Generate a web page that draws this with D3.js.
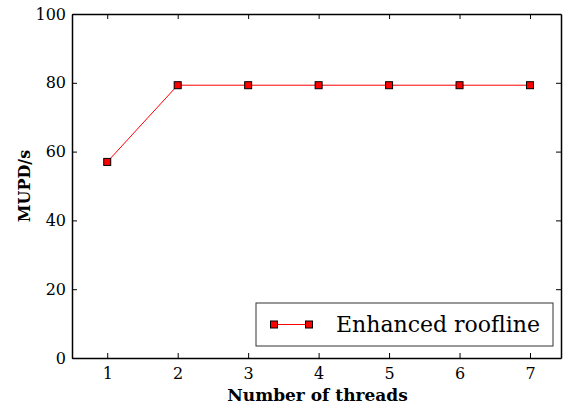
<!DOCTYPE html>
<html>
<head>
<meta charset="utf-8">
<script src="https://cdn.jsdelivr.net/npm/d3@7"></script>
<style>
  body { margin: 0; background: #fff; }
  text { font-family: "DejaVu Serif", "Liberation Serif", serif; fill: #000; }
</style>
</head>
<body>
<div id="chart"></div>
<script>
var threads = [1, 2, 3, 4, 5, 6, 7];
var mupds = [57, 79.3, 79.3, 79.3, 79.3, 79.3, 79.3];
var yTicks = [0, 20, 40, 60, 80, 100];
var seriesName = "Enhanced roofline";

var svgWidth = 567;
var svgHeight = 410;
var margin = { top: 14, right: 6, bottom: 52, left: 72 };
var width = svgWidth - margin.left - margin.right;
var height = svgHeight - margin.top - margin.bottom;

var svg = d3.select("#chart")
  .append("svg")
  .attr("width", svgWidth)
  .attr("height", svgHeight);

var chartGroup = svg.append("g")
  .attr("transform", `translate(${margin.left}, ${margin.top})`);

var x = d3.scaleLinear().domain([0.5, 7.44]).range([0, width]);
var y = d3.scaleLinear().domain([0, 100]).range([height, 0]);

// axes, ticks pointing inward on all sides
var bottomAxis = d3.axisBottom(x).tickValues(threads).tickFormat(d3.format("d"))
  .tickSizeInner(-5).tickSizeOuter(0).tickPadding(10);
var topAxis = d3.axisTop(x).tickValues(threads).tickSizeInner(-5).tickSizeOuter(0).tickFormat("");
var leftAxis = d3.axisLeft(y).tickValues(yTicks).tickFormat(d3.format("d"))
  .tickSizeInner(-5).tickSizeOuter(0).tickPadding(6);
var rightAxis = d3.axisRight(y).tickValues(yTicks).tickSizeInner(-5).tickSizeOuter(0).tickFormat("");

function styleAxis(g) {
  g.select(".domain").attr("stroke", "#000").attr("stroke-width", 1.5);
  g.selectAll(".tick line").attr("stroke", "#000").attr("stroke-width", 1);
  g.selectAll(".tick text").style("font-size", "16px").attr("fill", "#333");
}

chartGroup.append("g").attr("transform", `translate(0, ${height})`).call(bottomAxis).call(styleAxis);
chartGroup.append("g").call(topAxis).call(styleAxis);
chartGroup.append("g").call(leftAxis).call(styleAxis);
chartGroup.append("g").attr("transform", `translate(${width}, 0)`).call(rightAxis).call(styleAxis);

var line = d3.line()
  .x(function(d, i) { return x(threads[i]); })
  .y(function(d) { return y(d); });

chartGroup.append("path")
  .datum(mupds)
  .attr("d", line)
  .attr("fill", "none")
  .attr("stroke", "red")
  .attr("stroke-width", 1);

chartGroup.selectAll("rect.marker")
  .data(mupds)
  .enter()
  .append("rect")
  .attr("class", "marker")
  .attr("x", function(d, i) { return x(threads[i]) - 3.5; })
  .attr("y", function(d) { return y(d) - 3.5; })
  .attr("width", 7)
  .attr("height", 7)
  .attr("fill", "red")
  .attr("stroke", "#000")
  .attr("stroke-width", 1);

// legend
var legend = chartGroup.append("g")
  .attr("transform", `translate(${256 - margin.left}, ${303 - margin.top})`);

legend.append("rect")
  .attr("width", 297)
  .attr("height", 43)
  .attr("fill", "#fff")
  .attr("stroke", "#333")
  .attr("stroke-width", 1);

legend.append("line")
  .attr("x1", 18).attr("x2", 53)
  .attr("y1", 21.5).attr("y2", 21.5)
  .attr("stroke", "red").attr("stroke-width", 1);

legend.selectAll("rect.lm")
  .data([18, 53])
  .enter()
  .append("rect")
  .attr("class", "lm")
  .attr("x", function(d) { return d - 3.5; })
  .attr("y", 18)
  .attr("width", 7)
  .attr("height", 7)
  .attr("fill", "red")
  .attr("stroke", "#000");

legend.append("text")
  .attr("x", 80)
  .attr("y", 29)
  .style("font-size", "22px")
  .text(seriesName);

// axis labels
chartGroup.append("text")
  .attr("transform", `translate(${width / 2 + 1}, ${height + 43})`)
  .attr("text-anchor", "middle")
  .style("font-size", "17px")
  .style("font-weight", "bold")
  .text("Number of threads");

chartGroup.append("text")
  .attr("transform", "rotate(-90)")
  .attr("x", -height / 2)
  .attr("y", -margin.left + 30)
  .attr("text-anchor", "middle")
  .style("font-size", "16px")
  .style("font-weight", "bold")
  .text("MUPD/s");
</script>
</body>
</html>
